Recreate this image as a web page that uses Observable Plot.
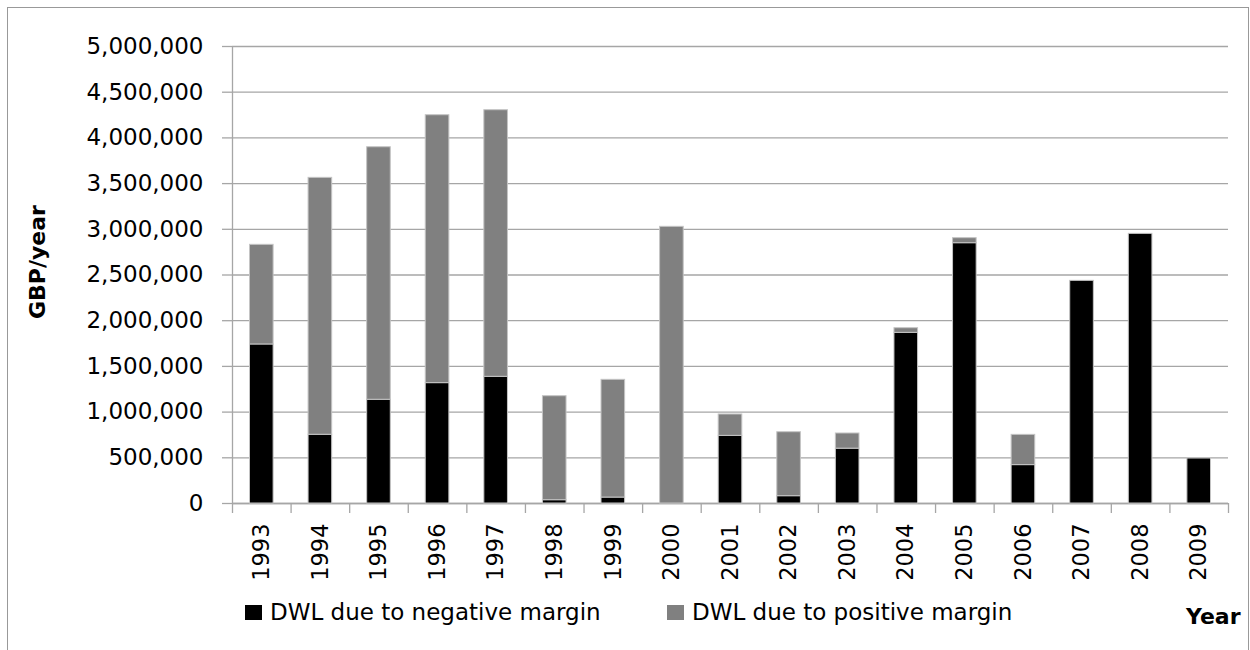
<!DOCTYPE html>
<html>
<head>
<meta charset="utf-8">
<script src="https://cdn.jsdelivr.net/npm/d3@7"></script>
<script src="https://cdn.jsdelivr.net/npm/@observablehq/plot@0.6"></script>
<style>
  html, body { margin: 0; padding: 0; background: #fff; }
  body { width: 1250px; height: 650px; position: relative; overflow: hidden; font-family: "DejaVu Sans", sans-serif; color: #000; }
  #frame { position: absolute; left: 7px; top: 7px; width: 1242px; height: 700px; border: 1px solid #999; box-sizing: border-box; pointer-events: none; }
  #chart { position: absolute; left: 0; top: 0; }
  #legend { position: absolute; left: 0; top: 590px; width: 1250px; height: 60px; }
  .item { position: absolute; top: 11px; display: flex; align-items: center; font-size: 23px; line-height: 23px; white-space: nowrap; }
  .sw { width: 17px; height: 15px; margin-right: 8px; flex: none; }
  #xtitle { position: absolute; left: 1186px; top: 16px; font-size: 22px; font-weight: bold; line-height: 22px; }
</style>
</head>
<body>
<div id="chart"></div>
<div id="legend"></div>
<div id="frame"></div>
<script>
// ---- data ----
const years = [1993, 1994, 1995, 1996, 1997, 1998, 1999, 2000, 2001, 2002, 2003, 2004, 2005, 2006, 2007, 2008, 2009];
const negativeMargin = [1740000, 752000, 1135000, 1317000, 1386000, 36000, 65000, 0, 740000, 80000, 600000, 1867000, 2848000, 420000, 2436000, 2950000, 492000];
const positiveMargin = [1090000, 2811000, 2763000, 2931000, 2917000, 1138000, 1288000, 3027000, 234000, 700000, 166000, 51000, 55000, 331000, 0, 0, 0];
const yTicks = [0, 500000, 1000000, 1500000, 2000000, 2500000, 3000000, 3500000, 4000000, 4500000, 5000000];
const seriesNames = ["DWL due to negative margin", "DWL due to positive margin"];
const seriesColors = ["#000000", "#808080"];
const yTitle = "GBP/year";
const xTitle = "Year";

// ---- derived table ----
const rows = years.flatMap((yr, i) => [
  {year: yr, series: seriesNames[0], lo: 0, hi: negativeMargin[i]},
  {year: yr, series: seriesNames[1], lo: negativeMargin[i], hi: negativeMargin[i] + positiveMargin[i]}
]).filter(d => d.hi > d.lo);
const boundaries = years.map(y => y - 0.5).concat([years[years.length - 1] + 0.5]);
const halfBar = 0.2015;
const gridColor = "#a6a6a6";

const chart = Plot.plot({
  width: 1250,
  height: 590,
  marginLeft: 232,
  marginRight: 22,
  marginTop: 46,
  marginBottom: 87,
  style: {fontFamily: '"DejaVu Sans", sans-serif', fontSize: "22.5px", color: "#000", background: "transparent", overflow: "visible"},
  x: {domain: [years[0] - 0.5, years[years.length - 1] + 0.5], label: null},
  y: {domain: [0, 5000000], label: null},
  color: {domain: seriesNames, range: seriesColors},
  marks: [
    Plot.gridY(yTicks, {stroke: gridColor, strokeOpacity: 1, strokeWidth: 1.3}),
    Plot.axisY(yTicks, {tickSize: 10, tickPadding: 19, tickFormat: d3.format(","), stroke: gridColor, strokeOpacity: 1, strokeWidth: 1.3, label: null, fontSize: 23}),
    Plot.ruleX([years[0] - 0.5], {stroke: gridColor, strokeWidth: 1.3}),
    Plot.ruleY([0], {stroke: gridColor, strokeWidth: 1.3}),
    Plot.ruleX(boundaries, {x: d => d, y1: 0, y2: 0, insetBottom: -10, stroke: gridColor, strokeWidth: 1.3}),
    Plot.axisX(years, {tickSize: 0, tickPadding: 20, tickRotate: -90, tickFormat: d => String(d), label: null, fontSize: 22.5}),
    Plot.rect(rows, {x1: d => d.year - halfBar, x2: d => d.year + halfBar, y1: "lo", y2: "hi", fill: "series", stroke: "#c4c4c4", strokeWidth: 1}),
    Plot.text([yTitle], {frameAnchor: "left", textAnchor: "middle", rotate: -90, dx: -195, dy: -13, fontWeight: "bold", fontSize: 22, fill: "#000"})
  ]
});
document.getElementById("chart").appendChild(chart);

// ---- legend below the SVG ----
const legend = document.getElementById("legend");
const legendLefts = [245, 667];
seriesNames.forEach((name, i) => {
  const item = document.createElement("div");
  item.className = "item";
  item.style.left = legendLefts[i] + "px";
  const sw = document.createElement("span");
  sw.className = "sw";
  sw.style.background = seriesColors[i];
  const tx = document.createElement("span");
  tx.textContent = name;
  item.appendChild(sw);
  item.appendChild(tx);
  legend.appendChild(item);
});
const xt = document.createElement("div");
xt.id = "xtitle";
xt.textContent = xTitle;
legend.appendChild(xt);
</script>
</body>
</html>
